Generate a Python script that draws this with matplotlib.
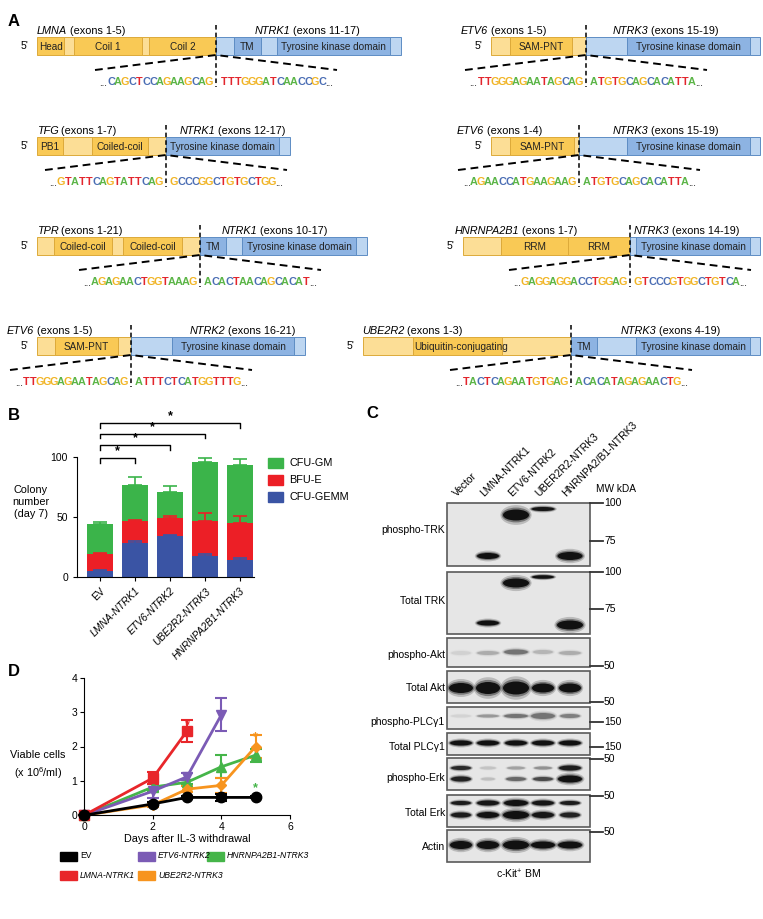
import matplotlib
matplotlib.use('Agg')
import matplotlib.pyplot as plt
from matplotlib.patches import Rectangle, Ellipse

plt.rcParams['font.family'] = ['Liberation Sans', 'DejaVu Sans']
plt.rcParams['mathtext.fontset'] = 'custom'
plt.rcParams['mathtext.rm'] = 'Liberation Sans'
plt.rcParams['mathtext.it'] = 'Liberation Sans:italic'

# ---------------- panel A: fusion schematics ----------------
# segment kinds: Y = 5' partner domain, y = 5' partner linker, B = kinase domain, b = kinase linker
fusion_parts = [
    [(27, 'Y', 'Head'), (10, 'y', ''), (68, 'Y', 'Coil 1'), (7, 'y', ''), (67, 'Y', 'Coil 2'),
     (18, 'b', ''), (27, 'B', 'TM'), (16, 'b', ''), (113, 'B', 'Tyrosine kinase domain'), (11, 'b', '')],
    [(19, 'y', ''), (62, 'Y', 'SAM-PNT'), (14, 'y', ''),
     (41, 'b', ''), (123, 'B', 'Tyrosine kinase domain'), (10, 'b', '')],
    [(26, 'Y', 'PB1'), (29, 'y', ''), (56, 'Y', 'Coiled-coil'), (18, 'y', ''),
     (113, 'B', 'Tyrosine kinase domain'), (11, 'b', '')],
    [(19, 'y', ''), (64, 'Y', 'SAM-PNT'), (5, 'y', ''),
     (48, 'b', ''), (123, 'B', 'Tyrosine kinase domain'), (10, 'b', '')],
    [(17, 'y', ''), (58, 'Y', 'Coiled-coil'), (11, 'y', ''), (59, 'Y', 'Coiled-coil'), (18, 'y', ''),
     (26, 'B', 'TM'), (16, 'b', ''), (114, 'B', 'Tyrosine kinase domain'), (11, 'b', '')],
    [(38, 'y', ''), (67, 'Y', 'RRM'), (62, 'Y', 'RRM'),
     (6, 'b', ''), (114, 'B', 'Tyrosine kinase domain'), (10, 'b', '')],
    [(18, 'y', ''), (63, 'Y', 'SAM-PNT'), (13, 'y', ''),
     (41, 'b', ''), (122, 'B', 'Tyrosine kinase domain'), (11, 'b', '')],
    [(50, 'y', ''), (89, 'Y', 'Ubiquitin-conjugating'), (69, 'y', ''),
     (26, 'B', 'TM'), (39, 'b', ''), (114, 'B', 'Tyrosine kinase domain'), (10, 'b', '')],
]
fusion_x0 = [37, 491, 37, 491, 37, 463, 37, 363]
fusion_top = [37, 37, 137, 137, 237, 237, 337, 337]
gene5 = ['LMNA', 'ETV6', 'TFG', 'ETV6', 'TPR', 'HNRNPA2B1', 'ETV6', 'UBE2R2']
exons5 = ['exons 1-5', 'exons 1-5', 'exons 1-7', 'exons 1-4', 'exons 1-21', 'exons 1-7', 'exons 1-5', 'exons 1-3']
gene5_x = [37, 461, 37, 457, 37, 455, 7, 362]
gene3 = ['NTRK1', 'NTRK3', 'NTRK1', 'NTRK3', 'NTRK1', 'NTRK3', 'NTRK2', 'NTRK3']
exons3 = ['exons 11-17', 'exons 15-19', 'exons 12-17', 'exons 15-19', 'exons 10-17', 'exons 14-19',
          'exons 16-21', 'exons 4-19']
gene3_x = [255, 613, 180, 613, 222, 634, 190, 621]
seq5 = ['CAGCTCCAGAAGCAG', 'TTGGGAGAATAGCAG', 'GTATTCAGTATTCAG', 'AGAACCATGAAGAAG',
        'AGAGAACTGGTAAAG', 'GAGGAGGACCTGGAG', 'TTGGGAGAATAGCAG', 'TACTCAGAATGTGAG']
seq3 = ['TTTGGGATCAACCGC', 'ATGTGCAGCACATTA', 'GCCCGGCTGTGCTGG', 'ATGTGCAGCACATTA',
        'ACACTAACAGCACAT', 'GTCCCGTGGCTGTCA', 'ATTTCTCATGGTTTG', 'ACACATAGAGAACTG']

# ---------------- panel B: colony numbers ----------------
colony_groups = ['EV', 'LMNA-NTRK1', 'ETV6-NTRK2', 'UBE2R2-NTRK3', 'HNRNPA2B1-NTRK3']
cfu_gemm = [5, 28, 34, 17.5, 14]
bfu_e = [14, 18.5, 15.5, 29.5, 31]
cfu_gm = [25, 30, 21, 49, 48.5]
cfu_gemm_err = [1, 2, 1, 2, 2]
bfu_e_err = [1, 1, 1.5, 6, 6]
cfu_gm_err = [1.5, 7, 5.5, 3, 4.5]
sig_to = [1, 2, 3, 4]
sig_level = [99, 110, 119.5, 128.5]

# ---------------- panel C: western blot ----------------
blot_lanes = ['Vector', 'LMNA-NTRK1', 'ETV6-NTRK2', 'UBER2R2-NTRK3', 'HNRNPA2/B1-NTRK3']
blot_rows = ['phospho-TRK', 'Total TRK', 'phospho-Akt', 'Total Akt', 'phospho-PLCγ1',
             'Total PLCγ1', 'phospho-Erk', 'Total Erk', 'Actin']
blot_box = [(503, 566), (572, 634), (638, 667), (671, 703), (707, 729),
            (733, 755), (758, 790), (795, 827), (830, 862)]
blot_label_y = [530, 601, 655, 688, 722, 747, 778, 813, 847]
# bands: (row, lane, y, width, height, intensity)
blot_bands = [
    (0, 1, 556, 22, 6, 1.0), (0, 2, 515, 26, 11, 1.0), (0, 3, 509, 23, 4, 0.95), (0, 4, 556, 25, 8, 1.0),
    (1, 1, 623, 22, 5, 1.0), (1, 2, 583, 26, 9, 1.0), (1, 3, 577, 22, 3.5, 1.0), (1, 4, 625, 26, 9, 1.0),
    (2, 0, 653, 20, 4, 0.06), (2, 1, 653, 22, 4, 0.18), (2, 2, 652, 24, 5, 0.4), (2, 3, 652, 20, 4, 0.15),
    (2, 4, 653, 22, 4, 0.18),
    (3, 0, 688, 24, 10, 1.0), (3, 1, 688, 24, 12, 1.0), (3, 2, 688, 26, 13, 1.0), (3, 3, 688, 22, 9, 1.0),
    (3, 4, 688, 22, 9, 1.0),
    (4, 0, 716, 20, 3, 0.05), (4, 1, 716, 22, 3, 0.25), (4, 2, 716, 24, 4, 0.4), (4, 3, 716, 24, 6, 0.4),
    (4, 4, 716, 20, 4, 0.35),
    (5, 0, 743, 22, 5, 1.0), (5, 1, 743, 22, 5, 1.0), (5, 2, 743, 22, 5, 1.0), (5, 3, 743, 22, 5, 1.0),
    (5, 4, 743, 22, 5, 1.0),
    (6, 0, 768, 20, 4, 0.8), (6, 1, 768, 16, 3, 0.1), (6, 2, 768, 18, 3, 0.22), (6, 3, 768, 18, 3, 0.28),
    (6, 4, 768, 22, 5, 0.9),
    (6, 0, 779, 20, 5, 0.85), (6, 1, 779, 14, 3, 0.12), (6, 2, 779, 20, 4, 0.45), (6, 3, 779, 20, 4, 0.6),
    (6, 4, 779, 24, 7, 1.0),
    (7, 0, 803, 20, 4, 0.9), (7, 1, 803, 22, 5, 0.95), (7, 2, 803, 24, 6, 1.0), (7, 3, 803, 22, 5, 0.95),
    (7, 4, 803, 20, 4, 0.9),
    (7, 0, 815, 20, 5, 0.9), (7, 1, 815, 22, 6, 1.0), (7, 2, 815, 26, 8, 1.0), (7, 3, 815, 22, 6, 0.95),
    (7, 4, 815, 20, 5, 0.85),
    (8, 0, 845, 22, 8, 1.0), (8, 1, 845, 22, 8, 1.0), (8, 2, 845, 26, 9, 1.0), (8, 3, 845, 24, 7, 1.0),
    (8, 4, 845, 24, 7, 1.0),
]
mw_y = [503, 541, 572, 609, 666, 702, 722, 747, 759, 796, 832]
mw_text = ['100', '75', '100', '75', '50', '50', '150', '150', '50', '50', '50']

# ---------------- panel D: viable cells ----------------
ev_days = [0, 2, 3, 4, 5]
ev_cells = [0, 0.33, 0.52, 0.52, 0.52]
ev_err = [0, 0.05, 0.05, 0.1, 0.03]
lmna_days = [0, 2, 3]
lmna_cells = [0, 1.08, 2.45]
lmna_err = [0, 0.18, 0.32]
etv6_days = [0, 2, 3, 4]
etv6_cells = [0, 0.7, 1.12, 2.92]
etv6_err = [0, 0.2, 0.1, 0.48]
ube_days = [0, 2, 3, 4, 5]
ube_cells = [0, 0.3, 0.76, 0.87, 2.0]
ube_err = [0, 0.05, 0.08, 0.22, 0.33]
hnr_days = [0, 2, 3, 4, 5]
hnr_cells = [0, 0.82, 0.96, 1.41, 1.75]
hnr_err = [0, 0.1, 0.06, 0.33, 0.19]

W, H = 763, 919
fig = plt.figure(figsize=(7.63, 9.19), dpi=100)
ov = fig.add_axes([0, 0, 1, 1])
ov.set_xlim(0, W)
ov.set_ylim(H, 0)
ov.axis('off')
renderer = fig.canvas.get_renderer()


def gene_label(x, y, gene, rest):
    t = ov.text(x, y, gene, style='italic', ha='left', va='center', fontsize=7.8)
    w = t.get_window_extent(renderer=renderer).width
    ov.text(x + w + 2.5, y, '(%s)' % rest, ha='left', va='center', fontsize=7.8)


fill = {'Y': '#F9C955', 'y': '#FCDE96', 'B': '#8DB3E2', 'b': '#BDD6F1'}
edge = {'Y': '#DDAA3A', 'y': '#DDAA3A', 'B': '#5E8DC4', 'b': '#5E8DC4'}
base_col = {'A': '#5BB547', 'C': '#4A6DB4', 'G': '#F1B424', 'T': '#E2262D'}

for i in range(8):
    x = fusion_x0[i]
    top = fusion_top[i]
    bh = 18
    junction = None
    for length, kind, lab in fusion_parts[i]:
        if kind in 'Bb' and junction is None:
            junction = x
        ov.add_patch(Rectangle((x, top), length, bh, facecolor=fill[kind], edgecolor=edge[kind], lw=0.7))
        if lab:
            ha = 'left' if lab.startswith('Ubiq') else 'center'
            tx = x + 1 if ha == 'left' else x + length / 2
            ov.text(tx, top + bh / 2 + 0.5, lab, ha=ha, va='center', fontsize=7.2, color='#222222')
        x += length
    ov.text(fusion_x0[i] - 12, top + bh / 2, "5'", ha='center', va='center', fontsize=7.5)
    gene_label(gene5_x[i], top - 6, gene5[i], exons5[i])
    gene_label(gene3_x[i], top - 6, gene3[i], exons3[i])
    bot = top + bh
    ov.plot([junction, junction], [top - 12, bot + 32], color='k', lw=1.1, ls=(0, (3, 2)))
    ov.plot([junction - 121, junction, junction + 121], [bot + 15, bot, bot + 15], color='k', lw=1.4,
            ls=(0, (4, 2.5)))
    sy = bot + 27
    pitch = 7.0
    for k, ch in enumerate(seq5[i]):
        cx = junction - 7 - (len(seq5[i]) - 1 - k) * pitch
        ov.text(cx, sy, ch, ha='center', va='center', fontsize=7.8, fontweight='bold', color=base_col[ch])
    ov.text(junction - 7 - (len(seq5[i]) - 1) * pitch - 3.5, sy + 1, '...', ha='right', va='center',
            fontsize=7)
    for k, ch in enumerate(seq3[i]):
        cx = junction + 8 + k * pitch
        ov.text(cx, sy, ch, ha='center', va='center', fontsize=7.8, fontweight='bold', color=base_col[ch])
    ov.text(junction + 8 + (len(seq3[i]) - 1) * pitch + 3.5, sy + 1, '...', ha='left', va='center',
            fontsize=7)

for lab, (px, py) in zip('ABCD', [(8, 22), (8, 415), (366, 414), (8, 672)]):
    ov.text(px, py, lab, fontsize=12, fontweight='bold', va='center', ha='left')

# ---------------- panel B ----------------
axb = fig.add_axes([77 / W, 1 - 577 / H, 177 / W, 162 / H])
xs = list(range(len(colony_groups)))
c_gemm, c_bfu, c_gm = '#3A54A4', '#EC1F26', '#3BB44A'
bw = 0.72
bot2 = [a + b for a, b in zip(cfu_gemm, bfu_e)]
tot = [a + b for a, b in zip(bot2, cfu_gm)]
axb.bar(xs, cfu_gemm, bw, color=c_gemm, label='CFU-GEMM')
axb.bar(xs, bfu_e, bw, bottom=cfu_gemm, color=c_bfu, label='BFU-E')
axb.bar(xs, cfu_gm, bw, bottom=bot2, color=c_gm, label='CFU-GM')
for tops, errs, c in [(cfu_gemm, cfu_gemm_err, c_gemm), (bot2, bfu_e_err, c_bfu), (tot, cfu_gm_err, c_gm)]:
    axb.errorbar(xs, tops, yerr=[[0] * 5, errs], fmt='none', ecolor=c, elinewidth=1.2, capsize=5,
                 capthick=1.2)
for j, lvl in zip(sig_to, sig_level):
    axb.plot([0, 0, j, j], [lvl - 4, lvl, lvl, lvl - 4], color='k', lw=1, clip_on=False)
    axb.text(j / 2, lvl + 0.5, '*', ha='center', va='bottom', fontsize=9, fontweight='bold')
axb.set_xlim(-0.66, 4.4)
axb.set_ylim(0, 135)
axb.set_yticks([0, 50, 100])
axb.spines['left'].set_bounds(0, 100)
axb.spines['top'].set_visible(False)
axb.spines['right'].set_visible(False)
axb.set_xticks(xs)
axb.set_xticklabels(colony_groups, rotation=45, ha='right', rotation_mode='anchor', fontsize=7.3)
for t in axb.get_xticklabels()[1:]:
    t.set_style('italic')
axb.tick_params(axis='both', length=3, width=0.8, labelsize=7.5)
axb.tick_params(axis='x', labelsize=7.3)
ov.text(31, 502, 'Colony\nnumber\n(day 7)', ha='center', va='center', fontsize=7.8, linespacing=1.25)
for k, (lab, c) in enumerate([('CFU-GM', c_gm), ('BFU-E', c_bfu), ('CFU-GEMM', c_gemm)]):
    yy = 463 + 17 * k
    ov.add_patch(Rectangle((268, yy - 5), 15, 10, color=c))
    ov.text(289, yy, lab, ha='left', va='center', fontsize=7.8)

# ---------------- panel C ----------------
lane_x = [461, 488, 516, 543, 570]
for k, lab in enumerate(blot_lanes):
    ov.text(lane_x[k] - 4, 497, lab, rotation=45, rotation_mode='anchor', ha='left', va='baseline',
            fontsize=7.4)
ov.text(596, 489, 'MW kDA', ha='left', va='center', fontsize=7.3)
for r, (t0, t1) in enumerate(blot_box):
    ov.add_patch(Rectangle((447, t0), 143, t1 - t0, facecolor='#E6E6E6', edgecolor='#5A5A5A', lw=1.2))
    ov.text(445, blot_label_y[r], blot_rows[r], ha='right', va='center', fontsize=7.5)
for r, lane, by, bwid, bhei, inten in blot_bands:
    for sw, sh, sa in [(1.2, 1.8, 0.2), (1.1, 1.35, 0.4), (1.0, 1.0, 1.0)]:
        ov.add_patch(Ellipse((lane_x[lane], by), bwid * sw, bhei * sh, facecolor='#111111', lw=0,
                             alpha=min(1.0, inten * sa)))
for my, mt in zip(mw_y, mw_text):
    ov.plot([590, 603], [my, my], color='#333333', lw=1.3)
    ov.text(604, my, mt, ha='left', va='center', fontsize=7.5)
ov.text(519, 874, r'c-Kit$^{+}$ BM', ha='center', va='center', fontsize=7.5)

# ---------------- panel D ----------------
axd = fig.add_axes([84 / W, 1 - 815.3 / H, 206 / W, 137.6 / H])
series = [
    (hnr_days, hnr_cells, hnr_err, '#45B549', '^', 'HNRNPA2B1-NTRK3'),
    (ube_days, ube_cells, ube_err, '#F7941E', 'D', 'UBE2R2-NTRK3'),
    (etv6_days, etv6_cells, etv6_err, '#7B5BB5', 'v', 'ETV6-NTRK2'),
    (lmna_days, lmna_cells, lmna_err, '#E8262A', 's', 'LMNA-NTRK1'),
    (ev_days, ev_cells, ev_err, '#000000', 'o', 'EV'),
]
for dx, dy, de, c, m, lab in series:
    ms = 5 if m == 'D' else 7.5
    axd.errorbar(dx, dy, yerr=de, color=c, marker=m, ms=ms, lw=2, elinewidth=1.5, capsize=4, capthick=1.5,
                 clip_on=False, label=lab)
axd.text(3, 2.62, '*', color='#E8262A', ha='center', va='center', fontsize=9, fontweight='bold')
axd.text(5, 2.28, '*', color='#F7941E', ha='center', va='center', fontsize=9, fontweight='bold')
axd.text(5, 0.78, '*', color='#45B549', ha='center', va='center', fontsize=9, fontweight='bold')
axd.set_xlim(0, 6)
axd.set_ylim(0, 4)
axd.set_xticks([0, 2, 4, 6])
axd.set_yticks([0, 1, 2, 3, 4])
axd.spines['top'].set_visible(False)
axd.spines['right'].set_visible(False)
axd.tick_params(axis='both', length=3, width=0.8, labelsize=7.5, pad=2)
axd.set_xlabel('Days after IL-3 withdrawal', fontsize=7.8, labelpad=1)
ov.text(38, 755, 'Viable cells', ha='center', va='center', fontsize=7.8)
ov.text(38, 773, r'(x 10$^{6}$/ml)', ha='center', va='center', fontsize=7.8)
leg_items = [('EV', '#000000', 60, 856, False), ('LMNA-NTRK1', '#E8262A', 60, 875, True),
             ('ETV6-NTRK2', '#7B5BB5', 138, 856, True), ('UBE2R2-NTRK3', '#F7941E', 138, 875, True),
             ('HNRNPA2B1-NTRK3', '#45B549', 207, 856, True)]
for lab, c, lx, ly, it in leg_items:
    ov.add_patch(Rectangle((lx, ly - 4.5), 17, 9, color=c))
    ov.text(lx + 20, ly, lab, ha='left', va='center', fontsize=6.2, style='italic' if it else 'normal')

fig.savefig('out.png', dpi=100)
